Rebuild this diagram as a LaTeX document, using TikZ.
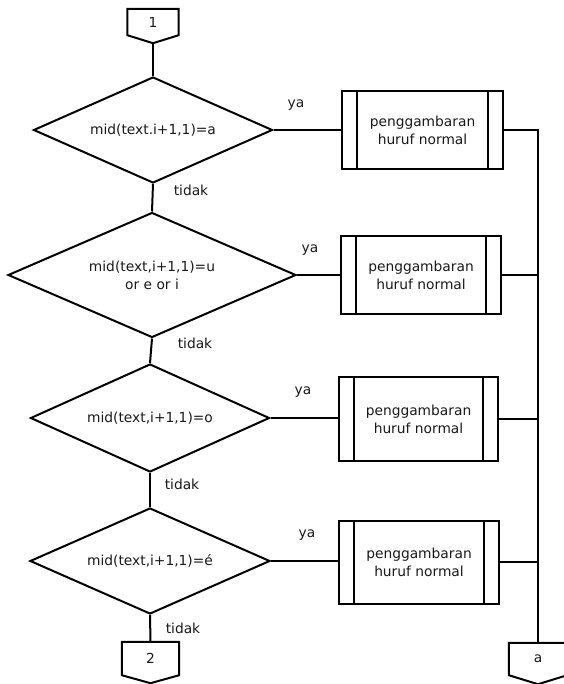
\documentclass[tikz,border=0pt]{standalone}
\usepackage{fontspec}
\setmainfont{DejaVu Sans}
\usetikzlibrary{shapes.geometric,calc}

\begin{document}
\begin{tikzpicture}[x=1pt,y=-1pt,
  every node/.style={font=\fontsize{13.8}{18}\selectfont, text=black!90},
  decision/.style={diamond, draw, line width=2pt, inner sep=0pt, align=center},
  procbox/.style={rectangle, draw, line width=2pt, inner sep=0pt, align=center},
  pagelink/.style={rectangle, inner sep=0pt},
  outline/.style={line width=2pt, line join=miter},
  flow/.style={line width=2pt},
  lbl/.style={inner sep=0pt}
]
\useasboundingbox (0,0) rectangle (563,684);

% off-page connector at the top
\node[pagelink, minimum width=51pt, minimum height=26pt] (c1) at (153,22) {1};
\coordinate (c1tip) at ($(c1.south)+(0,8)$);
\draw[outline] (c1.north west) -- (c1.north east) -- (c1.south east) -- (c1tip) -- (c1.south west) -- cycle;

% decisions
\node[decision, minimum width=239pt, minimum height=106pt, aspect=2.25] (d1) at (153,130) {mid(text.i+1,1)=a};
\node[decision, minimum width=288pt, minimum height=125pt, aspect=2.3] (d2) at (152,275) {mid(text,i+1,1)=u\\or e or i};
\node[decision, minimum width=239pt, minimum height=108pt, aspect=2.25] (d3) at (150,418) {mid(text,i+1,1)=o};
\node[decision, minimum width=240pt, minimum height=106pt, aspect=2.25] (d4) at (150,561) {mid(text,i+1,1)=é};

% predefined processes
\node[procbox, minimum width=161pt, minimum height=78pt] (b1) at (422.5,130) {penggambaran\\huruf normal};
\node[procbox, minimum width=160pt, minimum height=78pt] (b2) at (421,275) {penggambaran\\huruf normal};
\node[procbox, minimum width=159pt, minimum height=84pt] (b3) at (418.5,419) {penggambaran\\huruf normal};
\node[procbox, minimum width=160pt, minimum height=83pt] (b4) at (419,562) {penggambaran\\huruf normal};
\foreach \b in {b1,b2,b3,b4}{
  \draw[line width=2pt] ([xshift=16pt]\b.north west) -- ([xshift=16pt]\b.south west);
  \draw[line width=2pt] ([xshift=-16pt]\b.north east) -- ([xshift=-16pt]\b.south east);
}

% off-page connectors at the bottom
\node[pagelink, minimum width=57pt, minimum height=33pt] (c2) at (150.5,658.5) {2};
\coordinate (c2tip) at ($(c2.south)+(0,8)$);
\draw[outline] (c2.north west) -- (c2.north east) -- (c2.south east) -- (c2tip) -- (c2.south west) -- cycle;

\node[pagelink, minimum width=58pt, minimum height=32pt] (ca) at (538,659) {a};
\coordinate (catip) at ($(ca.south)+(0,9)$);
\draw[outline] (ca.north west) -- (ca.north east) -- (ca.south east) -- (catip) -- (ca.south west) -- cycle;

% main flow
\draw[flow] (c1tip) -- (d1.north);
\draw[flow] (d1.south) -- (d2.north);
\draw[flow] (d2.south) -- (d3.north);
\draw[flow] (d3.south) -- (d4.north);
\draw[flow] (d4.south) -- (c2.north);

% yes branches
\draw[flow] (d1.east) -- (b1.west);
\draw[flow] (d2.east) -- (b2.west);
\draw[flow] (d3.east) -- (d3.east -| b3.west);
\draw[flow] (d4.east) -- (d4.east -| b4.west);

% collecting line on the right
\draw[flow] (b1.east) -- (b1.east -| ca.north) -- (ca.north);
\draw[flow] (b2.east) -- (b2.east -| ca.north);
\draw[flow] (b3.east) -- (b3.east -| ca.north);
\draw[flow] (b4.east) -- (b4.east -| ca.north);

% branch labels
\node[lbl] (y1) at (296,105) {ya};
\node[lbl] (t1) at (191,190) {tidak};
\node[lbl] (y2) at (310,250) {ya};
\node[lbl] (t2) at (195,343) {tidak};
\node[lbl] (y3) at (303,392) {ya};
\node[lbl] (t3) at (182,484) {tidak};
\node[lbl] (y4) at (307,535) {ya};
\node[lbl] (t4) at (183,628) {tidak};
\end{tikzpicture}
\end{document}
